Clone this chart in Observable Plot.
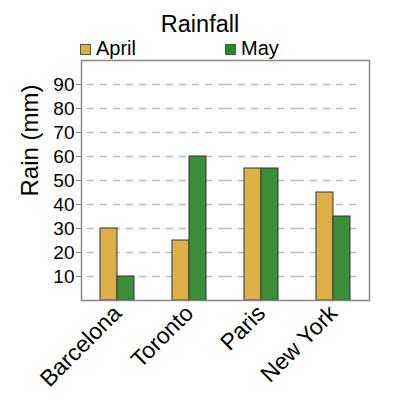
<!DOCTYPE html>
<html>
<head>
<meta charset="utf-8">
<script src="https://cdn.jsdelivr.net/npm/d3@7"></script>
<script src="https://cdn.jsdelivr.net/npm/@observablehq/plot@0.6"></script>
<style>
  body { margin: 0; background: #fff; font-family: "Liberation Sans", Arial, sans-serif; }
  #wrap { position: relative; width: 400px; height: 400px; overflow: hidden; }
  #title { position: absolute; left: 0; width: 400px; top: 13px; text-align: center; font-size: 23.5px; color: #000; line-height: 1; }
  .leg { position: absolute; top: 38px; font-size: 20px; line-height: 1; display: flex; align-items: center; }
  .sw { width: 9px; height: 9px; border: 1px solid #555; margin-right: 5px; margin-top: 2px; }
  #chart { position: absolute; left: 0; top: 0; }
</style>
</head>
<body>
<div id="wrap">
  <div id="chart"></div>
  <div id="title">Rainfall</div>
  <div class="leg" style="left:80px"><span class="sw" style="background:#DDB03C"></span>April</div>
  <div class="leg" style="left:225px"><span class="sw" style="background:#1F901F"></span>May</div>
</div>
<script>
const cities = ["Barcelona", "Toronto", "Paris", "New York"];
const months = ["April", "May"];
const april = [30, 25, 55, 45];
const may = [10, 60, 55, 35];
const yTicks = [10, 20, 30, 40, 50, 60, 70, 80, 90];
const yLabel = "Rain (mm)";
const colors = ["#DDAF47", "#3B8F3B"];

const data = [];
cities.forEach((c, i) => {
  data.push({city: c, month: "April", rain: april[i]});
  data.push({city: c, month: "May", rain: may[i]});
});
const grid = cities.flatMap((c, i) => yTicks.map((v) => ({city: c, v, idx: i})));
const gridOpts = {fx: "city", y: "v", stroke: "#bbb", strokeWidth: 1.5, strokeDasharray: "7,6"};
const last = cities.length - 1;

const chart = Plot.plot({
  width: 400,
  height: 400,
  marginLeft: 79,
  marginRight: 30,
  marginTop: 60,
  marginBottom: 100,
  style: {fontFamily: "'Liberation Sans', Arial, sans-serif", color: "#000", background: "transparent"},
  fx: {domain: cities, padding: 0},
  x: {domain: months, paddingInner: 0, paddingOuter: 1.02, axis: null},
  y: {domain: [0, 100]},
  color: {domain: months, range: colors},
  marks: [
    Plot.ruleY(grid.filter((d) => d.idx === 0), {...gridOpts, insetLeft: 6}),
    Plot.ruleY(grid.filter((d) => d.idx > 0 && d.idx < last), gridOpts),
    Plot.ruleY(grid.filter((d) => d.idx === last), {...gridOpts, insetRight: 8}),
    Plot.barY(data, {fx: "city", x: "month", y: "rain", fill: "month", stroke: "#333", strokeWidth: 1}),
    Plot.frame({facet: "super", stroke: "#888", strokeWidth: 1.5}),
    Plot.axisY({ticks: yTicks, tickSize: 5, tickPadding: 2, fontSize: 19, label: null, stroke: "#888"}),
    Plot.text([yLabel], {facet: "super", frameAnchor: "left", rotate: -90, dx: -51, dy: 16, fontSize: 24, text: (d) => d}),
    Plot.axisFx({anchor: "bottom", tickRotate: -45, tickSize: 0, tickPadding: 9, fontSize: 23, label: null})
  ]
});
document.getElementById("chart").appendChild(chart);
</script>
</body>
</html>
